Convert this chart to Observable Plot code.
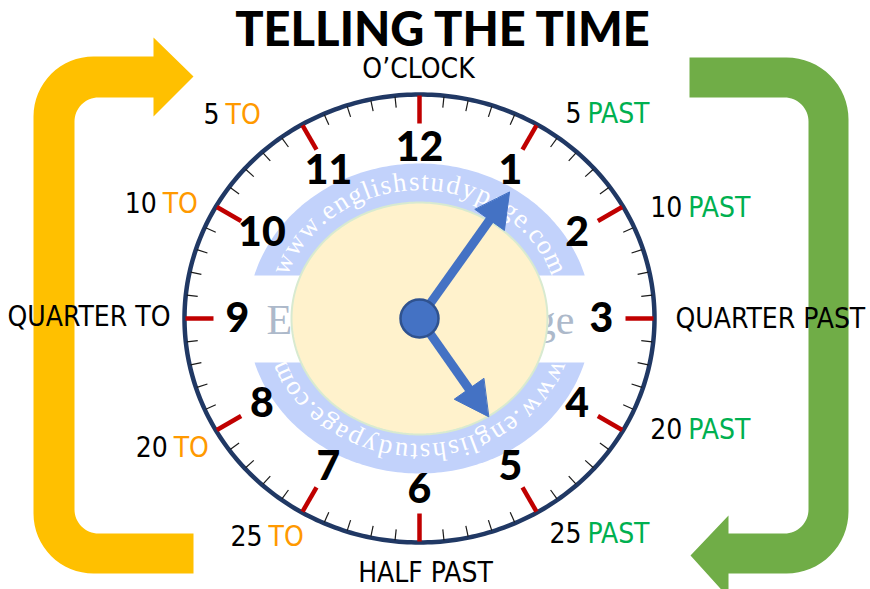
<!DOCTYPE html>
<html>
<head>
<meta charset="utf-8">
<script src="https://cdn.jsdelivr.net/npm/d3@7"></script>
<script src="https://cdn.jsdelivr.net/npm/@observablehq/plot@0.6"></script>
<style>
  html, body { margin: 0; padding: 0; background: #ffffff; }
  #chart { width: 870px; height: 589px; }
</style>
</head>
<body>
<div id="chart"></div>
<script>
// ---------------- data ----------------
const title = "TELLING THE TIME";
const hourNumbers = [12, 1, 2, 3, 4, 5, 6, 7, 8, 9, 10, 11];
const minuteTicks = [0,1,2,3,4,5,6,7,8,9,10,11,12,13,14,15,16,17,18,19,20,21,22,23,24,25,26,27,28,29,
                     30,31,32,33,34,35,36,37,38,39,40,41,42,43,44,45,46,47,48,49,50,51,52,53,54,55,56,57,58,59];
const labelMinutes = [0, 5, 10, 15, 20, 25, 30, 35, 40, 45, 50, 55];
const labelNumbers = ["", "5", "10", "", "20", "25", "", "25", "20", "", "10", "5"];
const labelWords   = ["O’CLOCK", "PAST", "PAST", "QUARTER PAST", "PAST", "PAST", "HALF PAST", "TO", "TO", "QUARTER TO", "TO", "TO"];
const handNames  = ["minute", "hour"];
const handAngles = [35.5, 144.9];   // degrees clockwise from 12
const watermarkUrl = "www.englishstudypage.com";
const watermarkName = "EnglishStudyPage";

// ---------------- layout ----------------
const W = 870, H = 589;
const cx = 419, cy = 318;
const ring = {rx: 235, ry: 224};
const numberRing = {rx: 182, ry: 171};
const labelRing = {rx: 300, ry: 250};
const labelNudge = [[-1,1],[15,12],[6,15],[-44,1],[6,-13],[15,-1],[6,5],[-4,2],[11,5],[51,-1],[0,11],[-47,13]];
const handLengths = [155, 120];
const rad = d => d * Math.PI / 180;
const onEllipse = (rx, ry, deg) => ({x: cx + rx * Math.sin(rad(deg)), y: cy - ry * Math.cos(rad(deg))});

function ellipsePts(rx, ry, a0 = 0, a1 = 360, n = 240) {
  return d3.range(n + 1).map(i => onEllipse(rx, ry, a0 + (a1 - a0) * i / n));
}
function arc(ax, ay, r, d0, d1, n = 16) {
  return d3.range(n + 1).map(i => {
    const a = rad(d0 + (d1 - d0) * i / n);
    return {x: ax + r * Math.cos(a), y: ay + r * Math.sin(a)};
  });
}

// yellow bracket arrow (left)
const Y = {L: 33, Ri: 74, T: 56, Tb: 97, Bt: 533, B: 573, R: 60, r: 24, hb: 153, ht: 37, hbot: 116, tipX: 193, tipY: 76, end: 193};
const yellowShape = [
  {x: Y.hb, y: Y.T},
  ...arc(Y.L + Y.R, Y.T + Y.R, Y.R, -90, -180),
  ...arc(Y.L + Y.R, Y.B - Y.R, Y.R, 180, 90),
  {x: Y.end, y: Y.B}, {x: Y.end, y: Y.Bt},
  ...arc(Y.Ri + Y.r, Y.Bt - Y.r, Y.r, 90, 180),
  ...arc(Y.Ri + Y.r, Y.Tb + Y.r, Y.r, 180, 270),
  {x: Y.hb, y: Y.Tb}, {x: Y.hb, y: Y.hbot}, {x: Y.tipX, y: Y.tipY}, {x: Y.hb, y: Y.ht}
];
// green bracket arrow (right)
const G = {Ro: 848, Ri: 808, T: 57, Tb: 97, Bt: 533, B: 573, R: 62, r: 24, start: 689, hb: 728, ht: 515, hbot: 597, tipX: 690, tipY: 555};
const greenShape = [
  {x: G.start, y: G.T},
  ...arc(G.Ro - G.R, G.T + G.R, G.R, -90, 0),
  ...arc(G.Ro - G.R, G.B - G.R, G.R, 0, 90),
  {x: G.hb, y: G.B}, {x: G.hb, y: G.hbot}, {x: G.tipX, y: G.tipY}, {x: G.hb, y: G.ht}, {x: G.hb, y: G.Bt},
  ...arc(G.Ri - G.r, G.Bt - G.r, G.r, 90, 0),
  ...arc(G.Ri - G.r, G.Tb + G.r, G.r, 0, -90),
  {x: G.start, y: G.Tb}
];

// watermark bands
const band = {rx: 172, ry: 155, cutTop: 43, cutBot: 44};
const tTop = Math.acos(band.cutTop / band.ry) * 180 / Math.PI;
const tBot = Math.acos(band.cutBot / band.ry) * 180 / Math.PI;
const upperBand = ellipsePts(band.rx, band.ry, -tTop, tTop, 120);
const lowerBand = ellipsePts(band.rx, band.ry, 180 - tBot, 180 + tBot, 120);

// curved watermark letters
function curvedText(str, font, centerDeg, spanDeg, rx, ry) {
  const ctx = document.createElement("canvas").getContext("2d");
  ctx.font = font;
  const w = Array.from(str, c => ctx.measureText(c).width);
  const total = d3.sum(w);
  let acc = 0;
  return Array.from(str, (c, i) => {
    const mid = acc + w[i] / 2; acc += w[i];
    const theta = centerDeg - spanDeg / 2 + spanDeg * mid / total;
    return {c, theta, ...onEllipse(rx, ry, theta)};
  });
}
const wmFont = "27px 'Liberation Serif', 'DejaVu Serif', serif";
const wmUpper = curvedText(watermarkUrl, wmFont, 0, 142, 149, 137);
const wmLower = curvedText(watermarkUrl, wmFont, 180, 142, 151, 134);

// ticks
const tickOuter = {rx: ring.rx - 1, ry: ring.ry - 1};
const ticks = minuteTicks.map(m => {
  const major = m % 5 === 0, len = major ? 28 : 11;
  const o = onEllipse(tickOuter.rx, tickOuter.ry, m * 6);
  const i = onEllipse(tickOuter.rx - len, tickOuter.ry - len, m * 6);
  return {m, major, x1: o.x, y1: o.y, x2: i.x, y2: i.y};
});

// clock numbers
const numbers = hourNumbers.map(h => ({h, ...onEllipse(numberRing.rx, numberRing.ry, (h % 12) * 30)}));

// hands
const hands = handNames.map((name, i) => {
  const th = rad(handAngles[i]), L = handLengths[i];
  const ux = Math.sin(th), uy = -Math.cos(th), px = Math.cos(th), py = Math.sin(th);
  const headLen = 34, half = 18;
  const tip = {x: cx + L * ux, y: cy + L * uy};
  const base = {x: cx + (L - headLen) * ux, y: cy + (L - headLen) * uy};
  return {
    name,
    shaft: {x1: cx, y1: cy, x2: base.x + 4 * ux, y2: base.y + 4 * uy},
    head: [tip, {x: base.x + half * px, y: base.y + half * py}, {x: base.x - half * px, y: base.y - half * py}]
  };
});

// labels
const labels = labelMinutes.map((m, i) => {
  const p = onEllipse(labelRing.rx, labelRing.ry, m * 6);
  return {m, num: labelNumbers[i], word: labelWords[i], x: p.x + labelNudge[i][0], y: p.y + labelNudge[i][1]};
});
const splitLabels = labels.filter(d => d.num !== "");
const centerLabels = labels.filter(d => d.num === "" && (d.m === 0 || d.m === 30));
const quarterPast = labels.filter(d => d.m === 15);
const quarterTo = labels.filter(d => d.m === 45);

const labelFont = "'DejaVu Sans Condensed', 'Liberation Sans Narrow', Roboto, sans-serif";
const heavyFont = "Lato, 'Open Sans', sans-serif";
const navy = "#203864", red = "#c00000";

const chart = Plot.plot({
  width: W, height: H, margin: 0,
  x: {domain: [0, W], range: [0, W], axis: null},
  y: {domain: [0, H], range: [0, H], axis: null},
  style: {background: "#ffffff", overflow: "hidden"},
  marks: [
    Plot.line(yellowShape, {x: "x", y: "y", fill: "#ffc000", stroke: "none", curve: "linear-closed"}),
    Plot.line(greenShape, {x: "x", y: "y", fill: "#70ad47", stroke: "none", curve: "linear-closed"}),
    // clock face
    Plot.line(ellipsePts(ring.rx, ring.ry, 0, 360, 360), {x: "x", y: "y", fill: "#ffffff", stroke: navy, strokeWidth: 4.5, curve: "linear-closed"}),
    Plot.link(ticks.filter(d => !d.major), {x1: "x1", y1: "y1", x2: "x2", y2: "y2", stroke: "#1a1a1a", strokeWidth: 1.2}),
    Plot.link(ticks.filter(d => d.major), {x1: "x1", y1: "y1", x2: "x2", y2: "y2", stroke: red, strokeWidth: 4.5, strokeLinecap: "butt"}),
    // watermark
    Plot.line(upperBand, {x: "x", y: "y", fill: "#c2d2fb", stroke: "none", curve: "linear-closed"}),
    Plot.line(lowerBand, {x: "x", y: "y", fill: "#c2d2fb", stroke: "none", curve: "linear-closed"}),
    Plot.text([watermarkName], {x: () => cx + 1, y: () => cy + 2, text: d => d, fill: "#adb9ca",
      fontFamily: "'Liberation Serif', 'DejaVu Serif', serif", fontSize: 42}),
    Plot.line(ellipsePts(128, 116, 0, 360, 240), {x: "x", y: "y", fill: "#fff2cc", stroke: "#d8ead0", strokeWidth: 2, curve: "linear-closed"}),
    Plot.text(wmUpper, {x: "x", y: "y", text: "c", rotate: "theta", fill: "#ffffff",
      fontFamily: "'Liberation Serif', 'DejaVu Serif', serif", fontSize: 27}),
    Plot.text(wmLower, {x: "x", y: "y", text: "c", rotate: "theta", fill: "#ffffff",
      fontFamily: "'Liberation Serif', 'DejaVu Serif', serif", fontSize: 27}),
    // numbers
    Plot.text(numbers, {x: "x", y: "y", text: "h", fill: "#000000", fontFamily: heavyFont, fontWeight: 900, fontSize: 41}),
    // hands
    Plot.link(hands, {x1: d => d.shaft.x1, y1: d => d.shaft.y1, x2: d => d.shaft.x2, y2: d => d.shaft.y2,
      stroke: "#4472c4", strokeWidth: 9, strokeLinecap: "butt"}),
    ...hands.map(h => Plot.line(h.head, {x: "x", y: "y", fill: "#4472c4", stroke: "#4472c4", strokeWidth: 1, curve: "linear-closed"})),
    Plot.dot([{x: cx, y: cy}], {x: "x", y: "y", r: 19, fill: "#4472c4", stroke: "#2f528f", strokeWidth: 2.5}),
    // labels
    Plot.text(splitLabels, {x: d => d.x - 3, y: "y", text: "num", textAnchor: "end", fill: "#000000", fontFamily: labelFont, fontSize: 28}),
    Plot.text(splitLabels, {x: d => d.x + 3, y: "y", text: "word", textAnchor: "start",
      fill: d => d.word === "PAST" ? "#00b050" : "#ff9900", fontFamily: labelFont, fontSize: 28}),
    Plot.text(centerLabels, {x: "x", y: "y", text: "word", textAnchor: "middle", fill: "#000000", fontFamily: labelFont, fontSize: 28}),
    Plot.text(quarterPast, {x: "x", y: "y", text: "word", textAnchor: "start", fill: "#000000", fontFamily: labelFont, fontSize: 28}),
    Plot.text(quarterTo, {x: "x", y: "y", text: "word", textAnchor: "end", fill: "#000000", fontFamily: labelFont, fontSize: 28}),
    // title
    Plot.text([title], {x: () => 442, y: () => 30, text: d => d, fill: "#000000", fontFamily: heavyFont, fontWeight: 900, fontSize: 47})
  ]
});
document.getElementById("chart").appendChild(chart);
</script>
</body>
</html>
